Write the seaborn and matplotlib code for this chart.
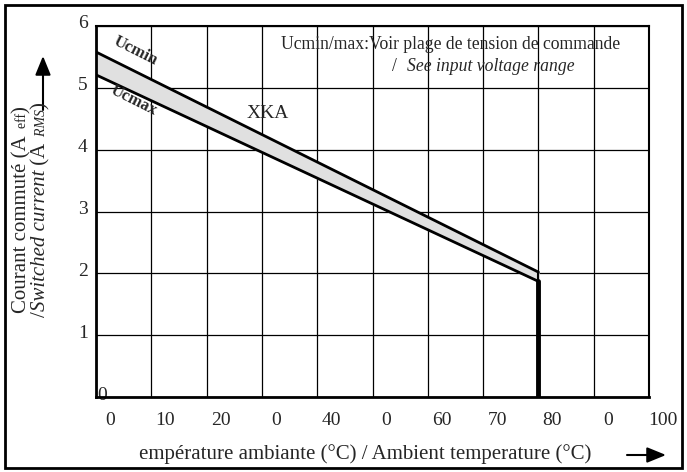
import matplotlib
matplotlib.use('Agg')
import matplotlib.pyplot as plt
import matplotlib.transforms as mtransforms
from matplotlib.patches import Rectangle, FancyArrowPatch
import seaborn as sns
import pandas as pd

# données
temp = [0, 80]
i_ucmin = [5.58, 2.02]
i_ucmax = [5.21, 1.87]
x_ticks = [0, 10, 20, 30, 40, 50, 60, 70, 80, 90, 100]
x_labels = ['0', '10', '20', '0', '40', '0', '60', '70', '80', '0', '100']
y_ticks = [0, 1, 2, 3, 4, 5, 6]
y_labels = ['0', '1', '2', '3', '4', '5', '6']

sns.set_style('white')
plt.rcParams['font.family'] = ['Liberation Serif', 'DejaVu Serif']

W, H = 687, 472
fig = plt.figure(figsize=(W / 100, H / 100), dpi=100)
ax = fig.add_axes([96 / W, 1 - 397 / H, (649 - 96) / W, (397 - 26) / H])

df = pd.DataFrame({'temp': temp + temp,
                   'courant': i_ucmin + i_ucmax,
                   'u': ['Ucmin'] * 2 + ['Ucmax'] * 2})

ax.fill_between(temp, i_ucmax, i_ucmin, color='#e0e0e0', zorder=2)
sns.lineplot(data=df, x='temp', y='courant', units='u', estimator=None,
             color='black', lw=2, ax=ax, zorder=3)
# bord droit de la bande et chute verticale
ax.plot([temp[-1], temp[-1]], [i_ucmax[-1], i_ucmin[-1]], color='black', lw=1.5, zorder=3)
ax.plot([temp[-1], temp[-1]], [0, i_ucmax[-1]], color='black', lw=3.5, zorder=3)

ax.set_xlim(0, 100)
ax.set_ylim(0, 6)
ax.set_xticks(x_ticks)
ax.set_xticklabels(x_labels, fontsize=14)
ax.set_yticks(y_ticks)
ax.set_yticklabels(y_labels, fontsize=14)
ax.grid(True, color='black', lw=0.9)
ax.tick_params(length=0, pad=6)
ax.tick_params(axis='x', pad=11)
for s in ax.spines.values():
    s.set_color('black')
    s.set_linewidth(1.5)
ax.spines['left'].set_linewidth(2)
ax.spines['bottom'].set_linewidth(2)
ax.set_xlabel('')
ax.set_ylabel('')

# décalage des étiquettes comme sur l'original
for lab in ax.get_xticklabels():
    lab.set_transform(lab.get_transform() + mtransforms.ScaledTranslation(14 / 100, 0, fig.dpi_scale_trans))
for lab in ax.get_yticklabels():
    off = 19 / 100 if lab.get_text() == '0' else 0
    lab.set_transform(lab.get_transform() + mtransforms.ScaledTranslation(off, 4 / 100, fig.dpi_scale_trans))

# textes
ax.text(7.2, 5.6, 'Ucmin', rotation=-26.6, fontsize=12, fontweight='bold',
        ha='center', va='center', zorder=4)
ax.text(6.9, 4.79, 'Ucmax', rotation=-26.6, fontsize=12, fontweight='bold',
        ha='center', va='center', zorder=4)
ax.text(31, 4.58, 'XKA', fontsize=14, ha='center', va='center', zorder=4)
ax.text(64.2, 5.7, 'Ucmin/max:Voir plage de tension de commande', fontsize=12.7,
        ha='center', va='center', zorder=4)
ax.text(53.6, 5.34, '/', fontsize=12.7, ha='left', va='center', zorder=4)
ax.text(56.2, 5.34, 'See input voltage range', fontsize=12.7, style='italic',
        ha='left', va='center', zorder=4)

# titre vertical en morceaux (indices plus petits)
renderer = fig.canvas.get_renderer()


def vtext(x_px, y_px, parts):
    y = 1 - y_px / H
    for s, size, style in parts:
        t = fig.text(x_px / W, y, s, rotation=90, rotation_mode='anchor',
                     ha='left', va='baseline', fontsize=size, style=style)
        y += t.get_window_extent(renderer).height / H


vtext(26, 313, [('Courant commuté (A', 15, 'normal'), ('  eff', 10, 'normal'), (')', 15, 'normal')])
vtext(45, 317, [('/', 15, 'normal'), ('Switched current', 15, 'italic'), (' (A', 15, 'normal'),
                ('  RMS', 10, 'italic'), (')', 15, 'normal')])

fig.text(365 / W, 1 - 454 / H, 'empérature ambiante (°C) / Ambient temperature (°C)',
         fontsize=15, ha='center', va='center')

# flèches
fig.add_artist(FancyArrowPatch((43 / W, 1 - 110 / H), (43 / W, 1 - 56 / H),
               transform=fig.transFigure, arrowstyle='-|>,head_length=11.5,head_width=4.7',
               color='black', lw=1.5, mutation_scale=1, shrinkA=0, shrinkB=0))
fig.add_artist(FancyArrowPatch((627 / W, 1 - 455 / H), (666 / W, 1 - 455 / H),
               transform=fig.transFigure, arrowstyle='-|>,head_length=11.5,head_width=4.7',
               color='black', lw=1.5, mutation_scale=1, shrinkA=0, shrinkB=0))

# cadre extérieur
fig.add_artist(Rectangle((5 / W, 4 / H), 677 / W, 463 / H, transform=fig.transFigure,
                         fill=False, edgecolor='black', lw=2))

fig.savefig('out.png', dpi=100)
